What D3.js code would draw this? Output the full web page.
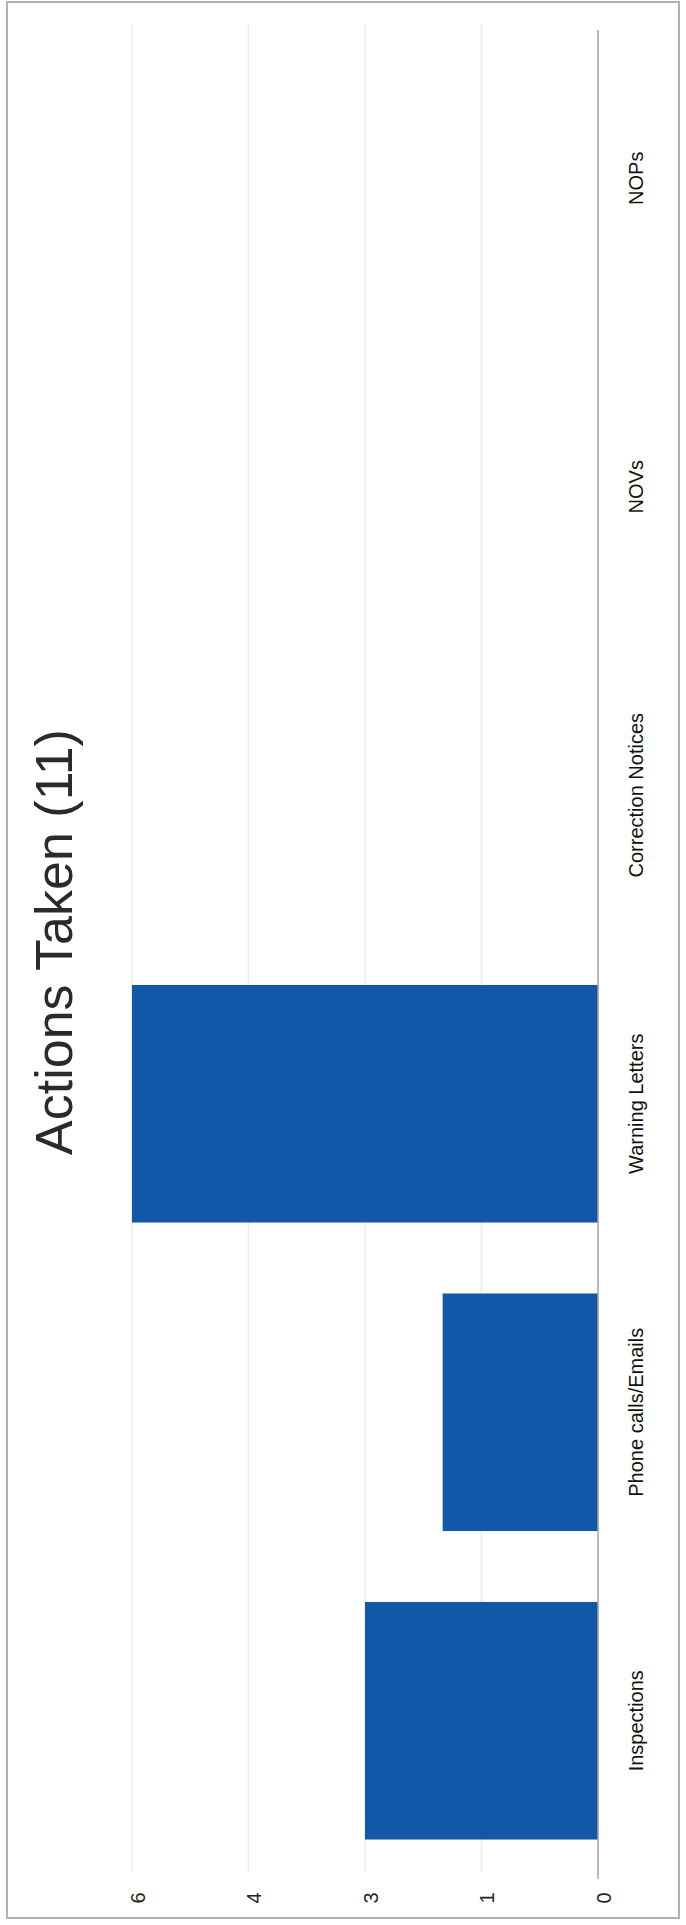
<!DOCTYPE html>
<html>
<head>
<meta charset="utf-8">
<script src="https://cdn.jsdelivr.net/npm/d3@7"></script>
<style>
  body { margin: 0; background: #fff; }
  text { font-family: "Liberation Sans", Arial, sans-serif; }
</style>
</head>
<body>
<script>
// Chart data (the chart is printed turned a quarter turn to the left)
const categories = ["Inspections", "Phone calls/Emails", "Warning Letters", "Correction Notices", "NOVs", "NOPs"];
const counts = [3, 2, 6, 0, 0, 0];
const tickValues = [0, 1.5, 3, 4.5, 6];
const tickLabels = ["0", "1", "3", "4", "6"];
const title = "Actions Taken (11)";

const W = 686, H = 1925;
// plot box in page coordinates
const plot = { left: 132, right: 598, top: 24, bottom: 1875 };

const svg = d3.select("body").append("svg")
  .attr("width", W)
  .attr("height", H);

svg.append("rect")
  .attr("width", W).attr("height", H)
  .attr("fill", "#fff");

// outer frame
svg.append("rect")
  .attr("x", 7).attr("y", 2)
  .attr("width", 672).attr("height", 1916)
  .attr("fill", "none")
  .attr("stroke", "#b0b0b0")
  .attr("stroke-width", 2);

// value scale runs right (0) to left (6)
const xscale = d3.scaleLinear().domain([0, 6]).range([plot.right, plot.left]);
// categories run bottom to top
const yscale = d3.scaleBand()
  .domain(categories)
  .range([plot.bottom, plot.top])
  .paddingInner(0.23)
  .paddingOuter(0.115);

// gridlines
svg.append("g")
  .selectAll("line")
  .data(tickValues.filter(d => d > 0))
  .join("line")
  .attr("x1", d => xscale(d)).attr("x2", d => xscale(d))
  .attr("y1", plot.top).attr("y2", plot.bottom - 3)
  .attr("stroke", "#ebebeb")
  .attr("stroke-width", 1.5);

// bars
svg.append("g")
  .selectAll("rect")
  .data(categories.map((c, i) => ({ name: c, value: counts[i] })))
  .join("rect")
  .attr("x", d => xscale(d.value))
  .attr("width", d => xscale(0) - xscale(d.value))
  .attr("y", d => yscale(d.name))
  .attr("height", yscale.bandwidth())
  .attr("fill", "#1257a8");

// category axis line (the zero line)
svg.append("line")
  .attr("x1", xscale(0)).attr("x2", xscale(0))
  .attr("y1", plot.top + 6).attr("y2", plot.bottom + 4)
  .attr("stroke", "#a0a0a0")
  .attr("stroke-width", 1.5);

// value axis labels
const xaxis = d3.axisBottom(xscale)
  .tickValues(tickValues)
  .tickFormat((d, i) => tickLabels[i])
  .tickSize(0);
const g_xaxis = svg.append("g")
  .attr("transform", `translate(0,${1898})`)
  .call(xaxis);
g_xaxis.select(".domain").remove();
g_xaxis.selectAll("text")
  .attr("x", 0).attr("y", 0).attr("dy", "0.62em")
  .attr("transform", "rotate(-90)")
  .attr("text-anchor", "middle")
  .attr("font-size", 20)
  .attr("fill", "#222");

// category axis labels
const yaxis = d3.axisRight(yscale).tickSize(0);
const g_yaxis = svg.append("g")
  .attr("transform", `translate(${636},0)`)
  .call(yaxis);
g_yaxis.select(".domain").remove();
g_yaxis.selectAll("text")
  .attr("x", 0).attr("y", 0).attr("dy", "0.35em")
  .attr("transform", "rotate(-90)")
  .attr("text-anchor", "middle")
  .attr("font-size", 20)
  .attr("fill", "#111");

// title
svg.append("text")
  .attr("transform", `translate(${72},${942}) rotate(-90)`)
  .attr("text-anchor", "middle")
  .attr("font-size", 52)
  .attr("fill", "#2a2a2a")
  .text(title);
</script>
</body>
</html>
